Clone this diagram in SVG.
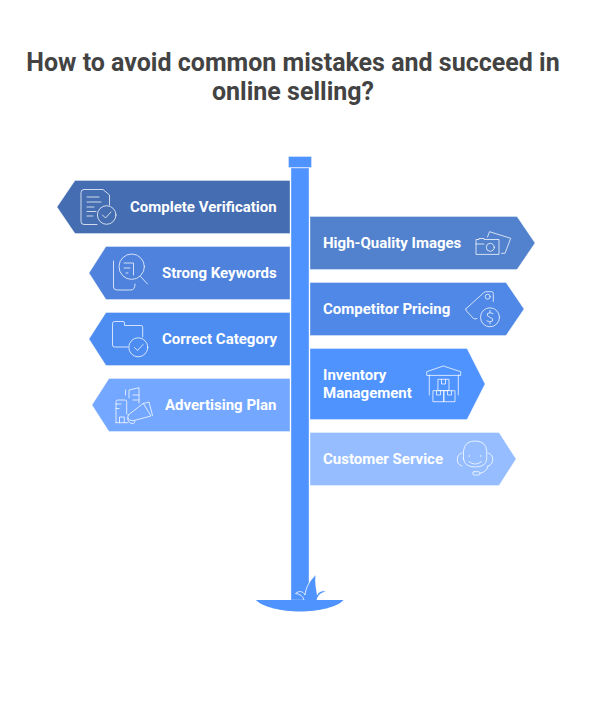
<svg xmlns="http://www.w3.org/2000/svg" width="592" height="720" viewBox="0 0 592 720">
<style>
.t{font-family:Roboto,"Liberation Sans",sans-serif;font-weight:700;font-size:15px;fill:#fff}
.h{font-family:Roboto,"Liberation Sans",sans-serif;font-weight:700;font-size:25px;fill:#434343;text-anchor:middle}
.i{fill:none;stroke:#fff;stroke-opacity:.75;stroke-width:1;stroke-linecap:round;stroke-linejoin:round}
.s{stroke-width:1;stroke-opacity:.35;stroke:#fff}
</style>
<rect width="592" height="720" fill="#fff"/>
<g id="title"><text class="h" x="293" y="71">How to avoid common mistakes and succeed in</text><text class="h" x="293" y="100">online selling?</text></g>
<g id="post">
<rect class="s" x="291" y="168" width="18" height="432" fill="#4f93ff"/>
<rect class="s" x="288.500" y="156.500" width="23" height="11" fill="#4f93ff"/>
<path d="M256 600H343.500C338 607 318 611.500 300 611.500C282 611.500 262 607 256 600Z" fill="#4f93ff"/>
<path d="M295.500 593.500C299 590.500 303 591 305 595C306 587 310 580 315.500 575C314.500 582 316 589 317 595C319 591 323 590 326 591.500C321 592.500 317.500 595 316.500 600.500H304C303 596 300 594 295.500 593.500Z" fill="#4f93ff"/>
<path d="M295.500 593.500C299 590.500 303 591 305 595C306 587 310 580 315.500 575M317 595C319 591 323 590 326 591.500" fill="none" stroke="#fff" stroke-opacity=".8" stroke-width="1"/>
<path d="M295.500 593.500C300 594 303 596 304 600" fill="none" stroke="#fff" stroke-opacity=".8" stroke-width="1"/>
</g>
<g id="complete-verification">
<path class="s" d="M290 180.500H75L57 207L75 233.500H290Z" fill="#456eb2"/>
<text class="t" x="130" y="212">Complete Verification</text>
<g class="i"><path d="M97 224.500H84Q81 224.500 81 221.500V192.500Q81 189.500 84 189.500H103L109.500 195V205"/><path d="M87 197H99M87 202H101M87 207H94M87 211.500H96M87 216H93"/><circle cx="106.700" cy="215" r="9.300"/><path d="M102.500 215L105.500 218L111 212"/></g>
</g>
<g id="strong-keywords">
<path class="s" d="M290 246.500H106L89 273L106 299.500H290Z" fill="#4e82dc"/>
<text class="t" x="162" y="278">Strong Keywords</text>
<g class="i"><path d="M113.500 261V287Q113.500 290 117 290H131Q135 290 135 284"/><circle cx="131.700" cy="266.700" r="12.700"/><path d="M124 263H133.500V275M124 268H130M126 273H128M140.500 276.500L147.500 284"/></g>
</g>
<g id="correct-category">
<path class="s" d="M290 312.500H106L89 339L106 365.500H290Z" fill="#4d8cf1"/>
<text class="t" x="162" y="344">Correct Category</text>
<g class="i"><path d="M128 347H114.500Q112.500 347 112.500 345V323.500Q112.500 321.500 114.500 321.500H123Q124.500 321.500 124.500 323V325.500H141Q142.700 325.500 142.700 327V337"/><circle cx="138.300" cy="347.300" r="9.500"/><path d="M134.500 347.500L137.500 350.500L143 344.500"/></g>
</g>
<g id="advertising-plan">
<path class="s" d="M290 378.500H109L92 405L109 431.500H290Z" fill="#74a7ff"/>
<text class="t" x="165" y="410">Advertising Plan</text>
<g class="i"><path d="M116 422.700V401.500Q116 400 118 400H125Q126.700 400 126.700 401.500V414M116 422.700H128M116 404H121M116 408.500H119M119.500 422.700V417H124.300V422.700"/><path d="M125.500 395V390M129 398V390L139 387.700V403M133 395H139M133 400H139"/><path d="M128.300 415L143.300 403.300L151 416L133.300 420.700Q129 421 128 418Q127.500 416 128.300 415ZM134.500 420.500Q136 423.500 132 423.500Q128 423 127.500 418M143.500 403.500L149 402L152.500 415.500"/></g>
</g>
<g id="high-quality-images">
<path class="s" d="M310 216.500H517L535 243L517 269.500H310Z" fill="#5282cd"/>
<text class="t" x="323" y="248">High-Quality Images</text>
<g class="i"><path d="M476 254V239.500H479V238.500H484V239.500H499V254ZM476 244H484"/><circle cx="490.300" cy="247.300" r="4"/><path d="M487.500 237L489.500 231.700L510.700 238.300L505 253.300H501.500"/></g>
</g>
<g id="competitor-pricing">
<path class="s" d="M310 282.500H506L524 309L506 335.500H310Z" fill="#4f88e7"/>
<text class="t" x="323" y="314">Competitor Pricing</text>
<g class="i"><path d="M465.700 309L484 292.500Q485 291.700 486 291.700H491.500Q493.300 291.700 493.300 293.500V301.500M465.700 309Q465.700 310 466.500 311L473.500 318.500Q475 319.500 477 318.500"/><circle cx="487.700" cy="296.700" r="2.500"/><circle cx="490" cy="317.300" r="9.500"/><path d="M493 313.500Q490 312 487.500 313.500Q486 316 490 317.300Q494 318.500 492.500 321Q490 322.500 487 321M490 310.500V312.500M490 322.500V324"/></g>
</g>
<g id="inventory-management">
<path class="s" d="M310 348.500H467L485 384L467 419.500H310Z" fill="#4f93ff"/>
<text class="t" x="323" y="380">Inventory</text>
<text class="t" x="323" y="398">Management</text>
<g class="i"><path d="M426.700 375V371.700L443.300 366L460.700 371.700V375ZM429.300 375V395M458.300 375V395"/><path d="M438.300 379.300H449V390.500H438.300ZM441.500 379.300V384H445.500V379.300M433.300 390.700H444V401.700H433.300ZM444 390.700H455V401.700H444ZM436.500 390.700V395H440.500V390.700M447.500 390.700V395H451.500V390.700"/></g>
</g>
<g id="customer-service">
<path class="s" d="M310 432.500H499L516 459L499 485.500H310Z" fill="#96bdff"/>
<text class="t" x="323" y="464">Customer Service</text>
<g class="i"><path d="M463.500 459V451Q464.500 441 475 441Q486 441 486.700 451V459Q486 467 475 467Q464.500 467 463.500 459Z"/><path d="M462 453Q457.300 454 457.300 459.500Q457.300 465 462 466M488 453Q492.700 454 492.700 459.500Q492.700 465 488 466M488 466Q487 472 480 473.300"/><path d="M469.300 455.500V456.500M480.700 455.500V456.500M469 461.500Q475 467 481.500 461.500"/><rect x="472.700" y="471.700" width="7.300" height="3.300" rx="1.500"/></g>
</g>
</svg>
